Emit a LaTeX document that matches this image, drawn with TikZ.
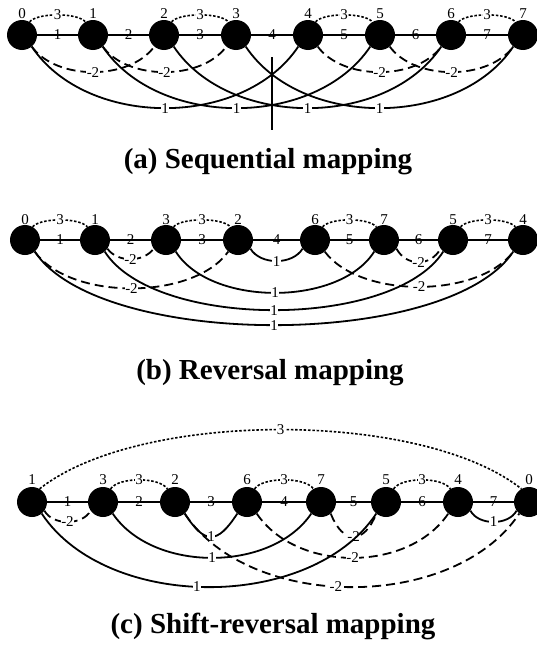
\documentclass[tikz,border=0pt]{standalone}
\usepackage{fontspec}
\setmainfont{Liberation Serif}
\begin{document}
\begin{tikzpicture}[x=1pt,y=-1pt,
  dot/.style={circle,fill=black,minimum size=30pt,inner sep=0pt},
  num/.style={font=\fontsize{15}{15}\selectfont,inner sep=0.6pt},
  onl/.style={num,fill=white},
  seg/.style={line width=2.2pt},
  arcA/.style={line width=1.8pt},
  arcB/.style={line width=1.8pt,dash pattern=on 9pt off 5pt},
  arcC/.style={line width=1.6pt,dash pattern=on 2.5pt off 1.8pt},
  ttl/.style={font=\fontsize{29}{29}\selectfont\bfseries}
]
\useasboundingbox (0,0) rectangle (536,645);

% ---------------- panel (a) ----------------
\foreach \x/\t [count=\i from 0] in {22/0,93/1,164/2,236/3,308/4,380/5,451/6,523/7}{
  \node[dot] (a\i) at (\x,35) {};
  \node[num] (ta\i) at (\x,14) {\t};
}
\draw[seg] (a0) -- node[num]{1} (a1) -- node[num]{2} (a2) -- node[num]{3} (a3)
  -- node[num]{4} (a4) -- node[num]{5} (a5) -- node[num]{6} (a6) -- node[num]{7} (a7);
\foreach \p/\q in {0/1,2/3,4/5,6/7}{
  \draw[arcC] (a\p.60) .. controls +(8,-9.3) and +(-8,-9.3) .. node[onl]{3} (a\q.120);
}
\foreach \p/\q in {0/2,1/3,4/6,5/7}{
  \draw[arcB] (a\p.-50) .. controls +(25,34) and +(-25,34) .. node[onl]{-2} (a\q.-130);
}
\foreach \p/\q in {0/4,1/5,2/6,3/7}{
  \draw[arcA] (a\p.-50) .. controls +(55,82) and +(-55,82) .. node[onl]{1} (a\q.-130);
}
\coordinate (vt) at (272,57);
\coordinate (vb) at (272,130);
\draw[line width=1.4pt] (vt) -- (vb);
\node[ttl] (ttla) at (268,162) {(a) Sequential mapping};

% ---------------- panel (b) ----------------
\foreach \x/\t [count=\i from 0] in {25/0,95/1,166/3,238/2,315/6,384/7,453/5,523/4}{
  \node[dot] (b\i) at (\x,240) {};
  \node[num] (tb\i) at (\x,220) {\t};
}
\draw[seg] (b0) -- node[num]{1} (b1) -- node[num]{2} (b2) -- node[num]{3} (b3)
  -- node[num]{4} (b4) -- node[num]{5} (b5) -- node[num]{6} (b6) -- node[num]{7} (b7);
\foreach \p/\q in {0/1,2/3,4/5,6/7}{
  \draw[arcC] (b\p.60) .. controls +(8,-9.3) and +(-8,-9.3) .. node[onl]{3} (b\q.120);
}
\draw[arcB] (b1.-35) .. controls +(10,14) and +(-10,14) .. node[onl]{-2} (b2.-145);
\draw[arcB] (b5.-35) .. controls +(10,18) and +(-10,18) .. node[onl]{-2} (b6.-145);
\draw[arcB] (b0.-50) .. controls +(35,49) and +(-35,49) .. node[onl]{-2} (b3.-130);
\draw[arcB] (b4.-50) .. controls +(35,47) and +(-35,47) .. node[onl]{-2} (b7.-130);
\draw[arcA] (b3.-35) .. controls +(10,16.5) and +(-10,16.5) .. node[onl]{1} (b4.-145);
\draw[arcA] (b2.-50) .. controls +(35,55) and +(-35,55) .. node[onl]{1} (b5.-130);
\draw[arcA] (b1.-50) .. controls +(50,78) and +(-50,78) .. node[onl]{1} (b6.-130);
\draw[arcA] (b0.-50) .. controls +(65,98) and +(-65,98) .. node[onl]{1} (b7.-130);
\node[ttl] (ttlb) at (270,373) {(b) Reversal mapping};

% ---------------- panel (c) ----------------
\foreach \x/\t [count=\i from 0] in {32/1,103/3,175/2,247/6,321/7,386/5,458/4,529/0}{
  \node[dot] (c\i) at (\x,502) {};
  \node[num] (tc\i) at (\x,480) {\t};
}
\draw[seg] (c0) -- node[num]{1} (c1) -- node[num]{2} (c2) -- node[num]{3} (c3)
  -- node[num]{4} (c4) -- node[num]{5} (c5) -- node[num]{6} (c6) -- node[num]{7} (c7);
\foreach \p/\q in {1/2,3/4,5/6}{
  \draw[arcC] (c\p.60) .. controls +(8,-12) and +(-8,-12) .. node[onl]{3} (c\q.120);
}
\draw[arcC] (c0.60) .. controls +(100,-79) and +(-100,-79) .. node[onl]{3} (c7.120);
\draw[arcB] (c0.-35) .. controls +(8,15) and +(-8,15) .. node[onl]{-2} (c1.-145);
\draw[arcA] (c6.-35) .. controls +(8,15) and +(-8,15) .. node[onl]{1} (c7.-145);
\draw[arcA] (c2.-50) .. controls +(20,31) and +(-20,31) .. node[onl]{1} (c3.-130);
\draw[arcB] (c4.-50) .. controls +(12,31) and +(-12,31) .. node[onl]{-2} (c5.-130);
\draw[arcA] (c1.-50) .. controls +(40,59) and +(-40,59) .. node[onl]{1} (c4.-130);
\draw[arcB] (c3.-50) .. controls +(40,59) and +(-40,59) .. node[onl]{-2} (c6.-130);
\draw[arcA] (c0.-50) .. controls +(65,98) and +(-65,98) .. node[onl,pos=0.47]{1} (c5.-130);
\draw[arcB] (c2.-50) .. controls +(65,98) and +(-65,98) .. node[onl,pos=0.46]{-2} (c7.-130);
\node[ttl] (ttlc) at (273,626) {(c) Shift-reversal mapping};
\end{tikzpicture}
\end{document}
